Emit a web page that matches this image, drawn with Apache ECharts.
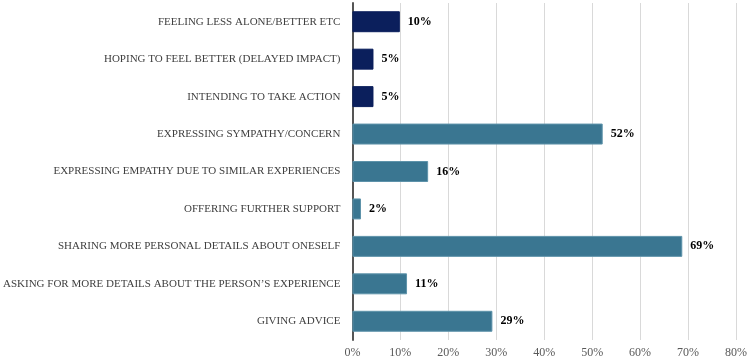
<!DOCTYPE html>
<html>
<head>
<meta charset="utf-8">
<script src="https://cdn.jsdelivr.net/npm/echarts@6/dist/echarts.min.js"></script>
<style>
  html, body { margin: 0; padding: 0; background: #fff; }
  #chart { width: 750px; height: 359px; }
</style>
</head>
<body>
<div id="chart"></div>
<script>
const categories = [
  'FEELING LESS ALONE/BETTER ETC',
  'HOPING TO FEEL BETTER (DELAYED IMPACT)',
  'INTENDING TO TAKE ACTION',
  'EXPRESSING SYMPATHY/CONCERN',
  'EXPRESSING EMPATHY DUE TO SIMILAR EXPERIENCES',
  'OFFERING FURTHER SUPPORT',
  'SHARING MORE PERSONAL DETAILS ABOUT ONESELF',
  'ASKING FOR MORE DETAILS ABOUT THE PERSON\u2019S EXPERIENCE',
  'GIVING ADVICE'
]
const values = [9.9, 4.4, 4.4, 52.2, 15.8, 1.8, 68.8, 11.4, 29.2]
const labels = ['10%', '5%', '5%', '52%', '16%', '2%', '69%', '11%', '29%']
// first three rows are the "impact" group, drawn in navy
const navyRows = 3

const font = '"Liberation Serif", "Times New Roman", serif'

const chart = echarts.init(document.getElementById('chart'))
chart.setOption({
  animation: false,
  grid: {
    left: 352,
    right: 12,
    top: 3,
    bottom: 19
  },
  xAxis: {
    type: 'value',
    min: 0,
    max: 80,
    interval: 10,
    axisLine: { show: false },
    axisTick: { show: false },
    splitLine: { lineStyle: { color: '#d9d9d9', width: 1 } },
    axisLabel: {
      formatter: '{value}%',
      fontFamily: font,
      fontSize: 12,
      color: '#595959',
      margin: 7
    }
  },
  yAxis: {
    type: 'category',
    inverse: true,
    data: categories,
    axisLine: { lineStyle: { color: '#555', width: 2 } },
    axisTick: { show: false },
    axisLabel: {
      fontFamily: font,
      fontSize: 11,
      color: '#404040',
      margin: 12
    }
  },
  series: [{
    type: 'bar',
    barWidth: '56%',
    data: values.map(function (v, i) {
      return {
        value: v,
        itemStyle: {
          color: i < navyRows ? '#0b1f5c' : '#3a7691',
          borderColor: i < navyRows ? '#0b1f5c' : '#5e93aa',
          borderWidth: 1
        }
      }
    }),
    label: {
      show: true,
      position: 'right',
      distance: 8,
      fontFamily: font,
      fontSize: 12,
      fontWeight: 'bold',
      color: '#000',
      formatter: function (p) {
        return labels[p.dataIndex]
      }
    }
  }]
})
</script>
</body>
</html>
